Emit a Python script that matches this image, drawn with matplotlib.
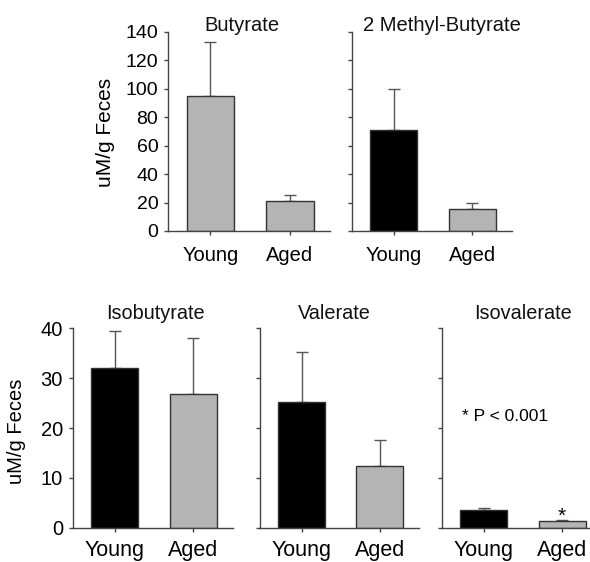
import matplotlib.pyplot as plt
import numpy as np

plt.rcParams['font.family'] = ['Liberation Sans', 'DejaVu Sans']

groups = ['Young', 'Aged']

# values (mean, upper error bar)
butyrate = [95, 21]
butyrate_err = [38, 4.5]
methyl_butyrate = [71, 15.5]
methyl_butyrate_err = [29, 4]
isobutyrate = [32, 26.8]
isobutyrate_err = [7.4, 11.2]
valerate = [25.2, 12.4]
valerate_err = [10.1, 5.1]
isovalerate = [3.5, 1.35]
isovalerate_err = [0.5, 0.2]

GRAY = '#b4b4b4'
EDGE = '#333333'
LINE = '#555555'


def panel(ax, vals, errs, colors, title, tx, ty, ymax, yticks, show_labels,
          tick_fs, xtick_fs, title_fs, xpad):
    x = np.arange(len(groups))
    ax.bar(x, vals, width=0.6, color=colors, edgecolor=EDGE, linewidth=1.0, zorder=2)
    ax.errorbar(x, vals, yerr=[np.zeros(len(vals)), errs], fmt='none',
                ecolor=LINE, elinewidth=1.0, capsize=4, capthick=1.0, zorder=1)
    ax.set_xlim(-0.535, 1.505)
    ax.set_ylim(0, ymax)
    ax.set_yticks(yticks)
    ax.set_xticks(x)
    ax.set_xticklabels(groups, fontsize=xtick_fs)
    if show_labels:
        ax.set_yticklabels([str(t) for t in yticks], fontsize=tick_fs)
    else:
        ax.set_yticklabels([])
    for s in ['top', 'right']:
        ax.spines[s].set_visible(False)
    for s in ['left', 'bottom']:
        ax.spines[s].set_color('#444444')
        ax.spines[s].set_linewidth(1.0)
    ax.tick_params(axis='y', direction='out', length=3, width=1.0, color='#444444', pad=4)
    ax.tick_params(axis='x', direction='out', length=3, width=1.0, color='#444444', pad=xpad)
    ax.text(tx, ty, title, transform=ax.transAxes, ha='center', va='baseline',
            fontsize=title_fs, color='#111111')


fig = plt.figure(figsize=(5.9, 5.62), dpi=100)

ax1 = fig.add_axes([0.2847, 0.5890, 0.2746, 0.3541])
ax2 = fig.add_axes([0.5966, 0.5890, 0.2712, 0.3541])
ax3 = fig.add_axes([0.1232, 0.0610, 0.2717, 0.3548])
ax4 = fig.add_axes([0.4407, 0.0610, 0.2695, 0.3548])
ax5 = fig.add_axes([0.7486, 0.0610, 0.2712, 0.3548])

panel(ax1, butyrate, butyrate_err, [GRAY, GRAY], 'Butyrate', 0.455, 1.006,
      140, list(range(0, 141, 20)), True, 14, 14.5, 14.5, 8)
panel(ax2, methyl_butyrate, methyl_butyrate_err, ['black', GRAY], '2 Methyl-Butyrate', 0.5625, 1.006,
      140, list(range(0, 141, 20)), False, 14, 14.5, 14.5, 8)
panel(ax3, isobutyrate, isobutyrate_err, ['black', GRAY], 'Isobutyrate', 0.514, 1.045,
      40, [0, 10, 20, 30, 40], True, 14.5, 15.5, 14.3, 6)
panel(ax4, valerate, valerate_err, ['black', GRAY], 'Valerate', 0.469, 1.045,
      40, [0, 10, 20, 30, 40], False, 14.5, 15.5, 14.3, 6)
panel(ax5, isovalerate, isovalerate_err, ['black', GRAY], 'Isovalerate', 0.508, 1.045,
      40, [0, 10, 20, 30, 40], False, 14.5, 15.5, 14.3, 6)

ax1.text(-0.386, 0.4975, 'uM/g Feces', transform=ax1.transAxes, rotation=90,
         ha='center', va='center', fontsize=15)
ax3.text(-0.348, 0.485, 'uM/g Feces', transform=ax3.transAxes, rotation=90,
         ha='center', va='center', fontsize=14.5)

ax5.text(-0.27, 22.4, '* P < 0.001', ha='left', va='center', fontsize=12.5)
ax5.text(1, isovalerate[1] + isovalerate_err[1] - 0.3, '*', ha='center', va='baseline', fontsize=15)

fig.savefig('out.png', dpi=100)
